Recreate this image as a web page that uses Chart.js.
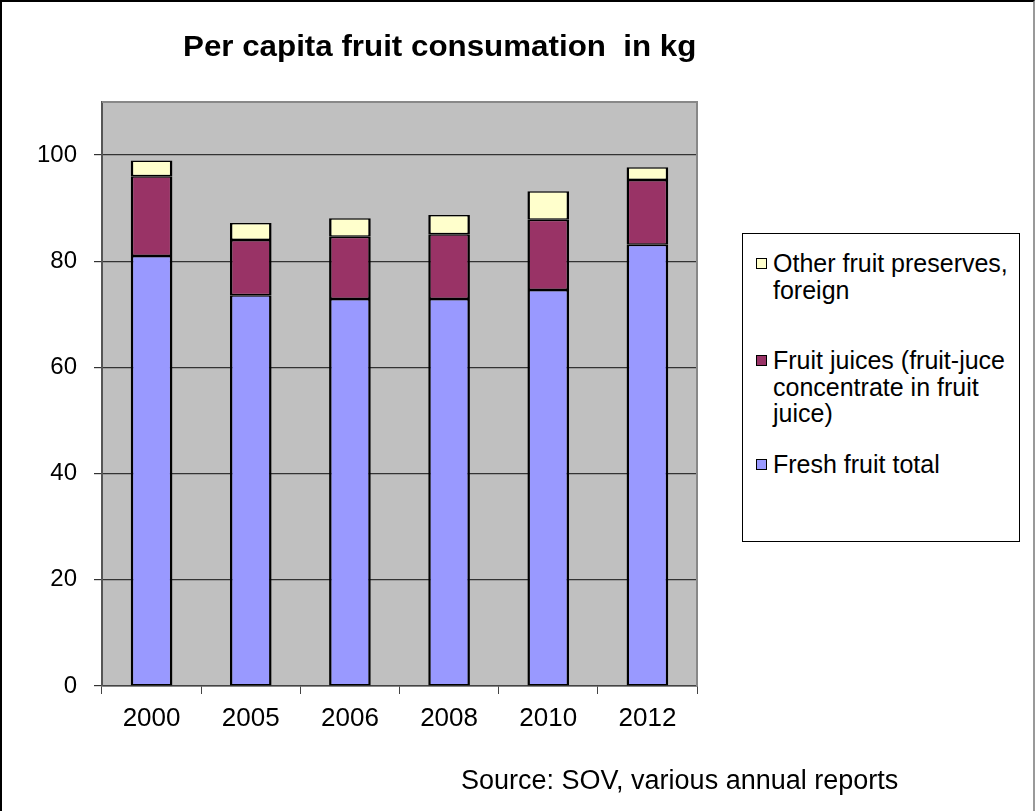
<!DOCTYPE html>
<html>
<head>
<meta charset="utf-8">
<title>Per capita fruit consumation in kg</title>
<script src="https://cdn.jsdelivr.net/npm/chart.js@4/dist/chart.umd.min.js"></script>
<style>
  html, body { margin: 0; padding: 0; background: #fff; }
  #page {
    position: relative; width: 1035px; height: 811px; overflow: hidden;
    box-sizing: border-box; border-top: 2px solid #000; border-left: 2px solid #000;
    border-right: 2px solid #999;
    font-family: "Liberation Sans", Arial, sans-serif;
  }
  #chart { position: absolute; left: -2px; top: -2px; }
  #title {
    position: absolute; left: 181px; top: 28px; font-weight: bold; font-size: 29px;
    color: #000; white-space: pre; transform: scaleX(1.08); transform-origin: left top;
  }
  #legend {
    position: absolute; left: 740px; top: 231px; width: 278px; height: 309px;
    border: 1px solid #000; box-sizing: border-box; background: #fff;
  }
  .item { position: absolute; left: 13px; font-size: 25px; line-height: 26.5px; color: #000; white-space: nowrap; }
  .item .sw {
    position: absolute; left: 0; top: 8px; width: 9px; height: 9px; border: 1.5px solid #000;
  }
  .item .txt { margin-left: 17px; display: block; }
  #source { position: absolute; left: 459px; top: 763px; font-size: 27px; color: #000; white-space: pre; }
</style>
</head>
<body>
<div id="page">
  <canvas id="chart" width="1035" height="811"></canvas>
  <div id="title">Per capita fruit consumation  in kg</div>
  <div id="legend"></div>
  <div id="source">Source: SOV, various annual reports</div>
</div>
<script>
// years on the x axis
const years = ["2000", "2005", "2006", "2008", "2010", "2012"];

// kg per person, stacked from bottom to top
const freshFruit = [81.0, 73.6, 72.9, 72.9, 74.6, 83.1];
const fruitJuices = [15.0, 10.4, 11.7, 12.2, 13.2, 12.2];
const otherPreserves = [3.0, 3.2, 3.5, 3.6, 5.4, 2.4];

const seriesNames = [
  "Fresh fruit total",
  "Fruit juices (fruit-juce concentrate in fruit juice)",
  "Other fruit preserves, foreign"
];
const seriesColors = ["#9999ff", "#993366", "#ffffcc"];

// legend text lines, top entry first
const legendLines = [
  { label: ["Other fruit preserves,", "foreign"], color: seriesColors[2], top: 16 },
  { label: ["Fruit juices (fruit-juce", "concentrate in fruit", "juice)"], color: seriesColors[1], top: 113 },
  { label: ["Fresh fruit total"], color: seriesColors[0], top: 217 }
];

const legendBox = document.getElementById("legend");
legendLines.forEach((l) => {
  const div = document.createElement("div");
  div.className = "item";
  div.style.top = l.top + "px";
  div.innerHTML = '<span class="sw" style="background:' + l.color + '"></span><span class="txt">' + l.label.join("<br>") + "</span>";
  legendBox.appendChild(div);
});

// grey plot background and frame
const plotArea = {
  id: "plotArea",
  beforeDraw(chart) {
    const { ctx, chartArea: a } = chart;
    ctx.save();
    ctx.fillStyle = "#c0c0c0";
    ctx.fillRect(a.left, a.top, a.right - a.left, a.bottom - a.top);
    ctx.restore();
  },
  afterDatasetsDraw(chart) {
    const { ctx, chartArea: a } = chart;
    ctx.save();
    ctx.strokeStyle = "#888";
    ctx.lineWidth = 2;
    ctx.beginPath();
    ctx.moveTo(a.left, a.top);
    ctx.lineTo(a.right, a.top);
    ctx.lineTo(a.right, a.bottom);
    ctx.stroke();
    ctx.restore();
  }
};

const barStyle = {
  borderColor: "#000",
  borderWidth: { top: 1.5, bottom: 1.5, left: 2.5, right: 2.5 },
  borderSkipped: false,
  inflateAmount: 0,
  barPercentage: 0.42,
  categoryPercentage: 1.0
};

new Chart(document.getElementById("chart").getContext("2d"), {
  type: "bar",
  data: {
    labels: years,
    datasets: [
      { label: seriesNames[0], data: freshFruit, backgroundColor: seriesColors[0], ...barStyle },
      { label: seriesNames[1], data: fruitJuices, backgroundColor: seriesColors[1], ...barStyle },
      { label: seriesNames[2], data: otherPreserves, backgroundColor: seriesColors[2], ...barStyle }
    ]
  },
  options: {
    responsive: false,
    animation: false,
    layout: { padding: { left: 0, right: 338, top: 102, bottom: 0 } },
    plugins: {
      legend: { display: false },
      title: { display: false },
      tooltip: { enabled: false }
    },
    scales: {
      x: {
        stacked: true,
        afterFit: (s) => { s.height = 811 - 686; },
        grid: { display: true, drawOnChartArea: false, offset: true, tickLength: 8, color: "#444", lineWidth: 1 },
        border: { color: "#444", width: 1.5 },
        ticks: { color: "#000", padding: 9, font: { family: "Liberation Sans", size: 26 } }
      },
      y: {
        stacked: true,
        min: 0,
        max: 110,
        afterFit: (s) => { s.width = 102; },
        grid: { color: "#333", lineWidth: 1.2, tickLength: 8 },
        border: { color: "#555", width: 2 },
        ticks: { stepSize: 20, includeBounds: false, color: "#000", padding: 17, font: { family: "Liberation Sans", size: 24 } }
      }
    }
  },
  plugins: [plotArea]
});
</script>
</body>
</html>
